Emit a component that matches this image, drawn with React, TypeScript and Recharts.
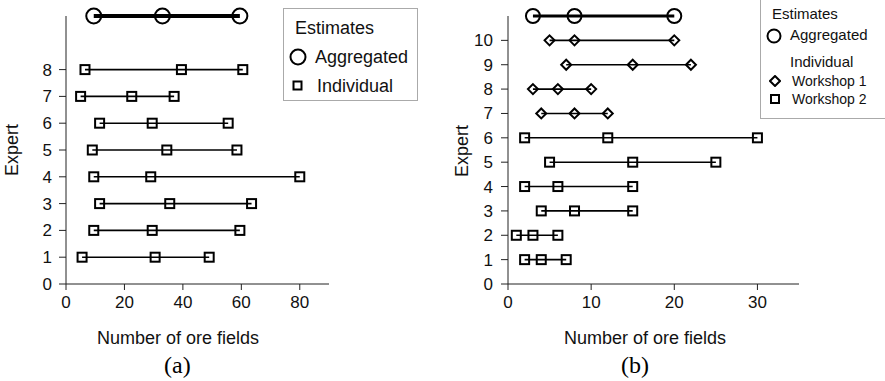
import { ScatterChart, Scatter, XAxis, YAxis } from "recharts";

// panel (a): min / most likely / max per expert
const expertsA = [1, 2, 3, 4, 5, 6, 7, 8];
const lowA = [5.5, 9.5, 11.5, 9.5, 9, 11.5, 5, 6.5];
const modeA = [30.5, 29.5, 35.5, 29, 34.5, 29.5, 22.5, 39.5];
const highA = [49, 59.5, 63.5, 80, 58.5, 55.5, 37, 60.5];
const aggregatedA = [9.5, 33, 59.5];
const aggLevelA = 10;
const xTicksA = [0, 20, 40, 60, 80];
const yTicksA = [0, 1, 2, 3, 4, 5, 6, 7, 8];

// panel (b)
const expertsB = [1, 2, 3, 4, 5, 6, 7, 8, 9, 10];
const lowB = [2, 1, 4, 2, 5, 2, 4, 3, 7, 5];
const modeB = [4, 3, 8, 6, 15, 12, 8, 6, 15, 8];
const highB = [7, 6, 15, 15, 25, 30, 12, 10, 22, 20];
const workshopB = [2, 2, 2, 2, 2, 2, 1, 1, 1, 1];
const aggregatedB = [3, 8, 20];
const aggLevelB = 11;
const xTicksB = [0, 10, 20, 30];
const yTicksB = [0, 1, 2, 3, 4, 5, 6, 7, 8, 9, 10];

const FONT = '"Liberation Sans", Arial, sans-serif';
const AXIS = "#222";

const Square = (p: any) => (
  <rect x={p.cx - 4.5} y={p.cy - 4.5} width={9} height={9} fill="none" stroke="#000" strokeWidth={2} />
);
const Diamond = (p: any) => (
  <polygon
    points={`${p.cx},${p.cy - 5} ${p.cx + 5},${p.cy} ${p.cx},${p.cy + 5} ${p.cx - 5},${p.cy}`}
    fill="none"
    stroke="#000"
    strokeWidth={2}
  />
);
const Circle = (r: number) => (p: any) => (
  <circle cx={p.cx} cy={p.cy} r={r} fill="none" stroke="#000" strokeWidth={2} />
);

const row = (y: number, lo: number, mo: number, hi: number) => [
  { x: lo, y },
  { x: mo, y },
  { x: hi, y },
];

const abs = (left: number, top: number, size: number, extra: any = {}) => ({
  position: "absolute" as const,
  left,
  top,
  fontSize: size,
  fontFamily: FONT,
  lineHeight: `${size + 2}px`,
  whiteSpace: "nowrap" as const,
  color: "#111",
  ...extra,
});

const App = () => {
  return (
    <div style={{ position: "absolute", left: 0, top: 0, width: 885, height: 381, background: "#fff", overflow: "hidden" }}>
      {/* panel (a) */}
      <div style={{ position: "absolute", left: 0, top: 0 }}>
        <ScatterChart width={440} height={381} margin={{ top: 16, right: 111, bottom: 67, left: 26 }}>
          <XAxis
            type="number"
            dataKey="x"
            domain={[0, 90]}
            ticks={xTicksA}
            interval={0}
            height={30}
            stroke={AXIS}
            tickSize={6}
            tickMargin={6}
            tick={{ fill: "#111", fontSize: 17, fontFamily: FONT }}
          />
          <YAxis
            type="number"
            dataKey="y"
            domain={[0, aggLevelA]}
            ticks={yTicksA}
            interval={0}
            width={40}
            stroke={AXIS}
            tickSize={7}
            tickMargin={7}
            tick={{ fill: "#111", fontSize: 17, fontFamily: FONT }}
          />
          {expertsA.map((e, i) => (
            <Scatter
              key={e}
              data={row(e, lowA[i], modeA[i], highA[i])}
              line={{ stroke: "#000", strokeWidth: 1.6 }}
              lineType="joint"
              shape={Square}
              isAnimationActive={false}
            />
          ))}
          <Scatter
            data={aggregatedA.map((x) => ({ x, y: aggLevelA }))}
            line={{ stroke: "#000", strokeWidth: 4 }}
            lineType="joint"
            shape={Circle(7.5)}
            isAnimationActive={false}
          />
        </ScatterChart>
      </div>

      {/* panel (b) */}
      <div style={{ position: "absolute", left: 440, top: 0 }}>
        <ScatterChart width={445} height={381} margin={{ top: 16, right: 86, bottom: 67, left: 28 }}>
          <XAxis
            type="number"
            dataKey="x"
            domain={[0, 35]}
            ticks={xTicksB}
            interval={0}
            height={30}
            stroke={AXIS}
            tickSize={6}
            tickMargin={6}
            tick={{ fill: "#111", fontSize: 17, fontFamily: FONT }}
          />
          <YAxis
            type="number"
            dataKey="y"
            domain={[0, aggLevelB]}
            ticks={yTicksB}
            interval={0}
            width={40}
            stroke={AXIS}
            tickSize={7}
            tickMargin={8}
            tick={{ fill: "#111", fontSize: 17, fontFamily: FONT }}
          />
          {expertsB.map((e, i) => (
            <Scatter
              key={e}
              data={row(e, lowB[i], modeB[i], highB[i])}
              line={{ stroke: "#000", strokeWidth: 1.6 }}
              lineType="joint"
              shape={workshopB[i] === 1 ? Diamond : Square}
              isAnimationActive={false}
            />
          ))}
          <Scatter
            data={aggregatedB.map((x) => ({ x, y: aggLevelB }))}
            line={{ stroke: "#000", strokeWidth: 3 }}
            lineType="joint"
            shape={Circle(7)}
            isAnimationActive={false}
          />
        </ScatterChart>
      </div>

      {/* axis titles and captions */}
      <div style={abs(97, 328, 18)}>Number of ore fields</div>
      <div style={abs(564, 328, 18)}>Number of ore fields</div>
      <div style={abs(-16, 140, 18, { transform: "rotate(-90deg)", width: 56, textAlign: "center" })}>Expert</div>
      <div style={abs(434, 141, 18, { transform: "rotate(-90deg)", width: 56, textAlign: "center" })}>Expert</div>
      <div style={abs(164, 352, 24, { fontFamily: '"Liberation Serif", "Times New Roman", serif', color: "#000" })}>(a)</div>
      <div style={abs(621, 352, 24, { fontFamily: '"Liberation Serif", "Times New Roman", serif', color: "#000" })}>(b)</div>

      {/* legend (a) */}
      <div style={{ position: "absolute", left: 283, top: 8, width: 133, height: 91, border: "1px solid #aaa" }} />
      <div style={abs(295, 18, 18)}>Estimates</div>
      <svg style={{ position: "absolute", left: 288, top: 47 }} width={20} height={20}>
        <circle cx={10} cy={10} r={7.5} fill="none" stroke="#000" strokeWidth={2} />
      </svg>
      <div style={abs(315, 47, 18)}>Aggregated</div>
      <svg style={{ position: "absolute", left: 292, top: 80 }} width={12} height={12}>
        <rect x={1.5} y={1.5} width={8} height={8} fill="none" stroke="#000" strokeWidth={2} />
      </svg>
      <div style={abs(317, 76, 18)}>Individual</div>

      {/* legend (b) */}
      <div style={{ position: "absolute", left: 760, top: -1, width: 140, height: 118, border: "1px solid #aaa" }} />
      <div style={abs(772, 5, 15)}>Estimates</div>
      <svg style={{ position: "absolute", left: 765, top: 27 }} width={18} height={18}>
        <circle cx={9} cy={9} r={6.5} fill="none" stroke="#000" strokeWidth={2} />
      </svg>
      <div style={abs(790, 26, 15)}>Aggregated</div>
      <div style={abs(790, 53, 15)}>Individual</div>
      <svg style={{ position: "absolute", left: 769, top: 75 }} width={12} height={12}>
        <polygon points="6,1 11,6 6,11 1,6" fill="none" stroke="#000" strokeWidth={2} />
      </svg>
      <div style={abs(792, 73, 14)}>Workshop 1</div>
      <svg style={{ position: "absolute", left: 769, top: 93 }} width={12} height={12}>
        <rect x={2} y={2} width={8} height={8} fill="none" stroke="#000" strokeWidth={2} />
      </svg>
      <div style={abs(792, 91, 14)}>Workshop 2</div>
    </div>
  );
};

export default App;
